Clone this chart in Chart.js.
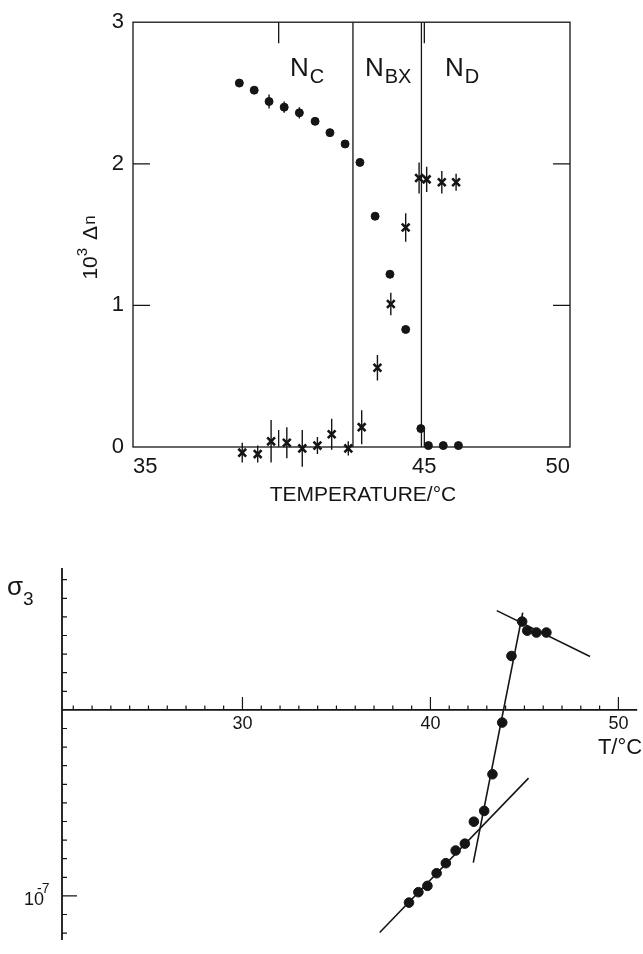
<!DOCTYPE html>
<html lang="en">
<head>
<meta charset="UTF-8">
<title>Birefringence and conductivity vs temperature</title>
<script src="https://cdn.jsdelivr.net/npm/chart.js"></script>
<style>
  body { margin: 0; background: #fff; width: 643px; height: 954px; overflow: hidden; position: relative; }
  canvas { position: absolute; left: 0; }
  #topChart { top: 0; }
  #bottomChart { top: 530px; }
</style>
</head>
<body>
<canvas id="topChart" width="643" height="520"></canvas>
<canvas id="bottomChart" width="643" height="424"></canvas>
<script>
// ---- top panel: 10^3 Δn against temperature ----
const tempDots  = [38.65, 39.16, 39.67, 40.19, 40.71, 41.25, 41.76, 42.28, 42.79, 43.31, 43.82, 44.36, 44.88, 45.14, 45.65, 46.17];
const deltaDots = [2.57, 2.52, 2.44, 2.40, 2.36, 2.30, 2.22, 2.14, 2.01, 1.63, 1.22, 0.83, 0.13, 0.01, 0.01, 0.01];
const errDots   = [0, 0, 0.05, 0.04, 0.04, 0, 0, 0, 0, 0, 0, 0, 0, 0, 0, 0];

const tempCross  = [38.75, 39.28, 39.74, 40.28, 40.81, 41.33, 41.82, 42.39, 42.85, 43.39, 43.85, 44.36, 44.82, 45.08, 45.60, 46.09];
const deltaCross = [-0.04, -0.05, 0.04, 0.03, -0.01, 0.01, 0.09, -0.01, 0.14, 0.56, 1.01, 1.55, 1.90, 1.89, 1.87, 1.87];
const errCross   = [0.07, 0.06, 0.15, 0.11, 0.13, 0.06, 0.11, 0.05, 0.12, 0.09, 0.08, 0.10, 0.11, 0.09, 0.08, 0.06];

const phaseBounds = [42.55, 44.9];
const phaseNames  = [['N', 'C'], ['N', 'BX'], ['N', 'D']];
const phaseLabelX = [40.39, 42.96, 45.71];
const topXTicks   = [35, 45, 50];

// ---- bottom panel: log σ3 against temperature ----
const tempSigma = [44.88, 45.15, 45.64, 46.17, 44.31, 43.82, 43.30, 42.86, 42.31, 41.83, 41.34, 40.82, 40.33, 39.84, 39.36, 38.86];
const logSigma  = [4.75, 4.26, 4.16, 4.16, 2.90, -0.68, -3.46, -5.43, -6.01, -7.19, -7.56, -8.24, -8.78, -9.46, -9.80, -10.36];

const fitHighX  = [43.53, 48.49];
const fitHighY  = [5.34, 2.87];
const fitSteepX = [42.28, 44.91];
const fitSteepY = [-8.21, 5.23];
const fitLowX   = [37.3, 45.22];
const fitLowY   = [-11.97, -3.67];

const sigmaTicks  = [7, 6, 5, 4, 3, 2, 1, -1, -2, -3, -4, -5, -6, -7, -8, -9, -10, -11, -12];
const decadeTick  = -10;     // the 10^-7 mark
const tempMajor   = [30, 40, 50];

const INK = '#151515';
const FONT = '"Liberation Sans", Arial, sans-serif';

function pts(xs, ys) { return xs.map((x, i) => ({ x: x, y: ys[i] })); }

function vLine(t) { return { type: 'line', data: [{ x: t, y: 0 }, { x: t, y: 3 }], borderColor: INK, borderWidth: 1.3, pointRadius: 0 }; }

const topDecor = {
  id: 'topDecor',
  beforeDatasetsDraw(chart) {
    const { ctx, chartArea: a, scales: { x, y } } = chart;
    ctx.save();
    ctx.strokeStyle = INK;
    ctx.lineWidth = 1.3;
    ctx.strokeRect(a.left, a.top, a.right - a.left, a.bottom - a.top);
    ctx.beginPath();
    [1, 2].forEach(v => {
      const py = y.getPixelForValue(v);
      ctx.moveTo(a.left, py); ctx.lineTo(a.left + 17, py);
      ctx.moveTo(a.right, py); ctx.lineTo(a.right - 17, py);
    });
    [40, 45].forEach(v => {
      const px = x.getPixelForValue(v);
      ctx.moveTo(px, a.bottom); ctx.lineTo(px, a.bottom - 17);
      ctx.moveTo(px, a.top); ctx.lineTo(px, a.top + 21);
    });
    ctx.stroke();
    // error bars
    ctx.lineWidth = 1.4;
    chart.data.datasets.forEach(ds => {
      if (!ds.err) return;
      ctx.beginPath();
      ds.data.forEach((p, j) => {
        const e = ds.err[j];
        if (!e) return;
        const px = x.getPixelForValue(p.x);
        ctx.moveTo(px, y.getPixelForValue(p.y - e));
        ctx.lineTo(px, y.getPixelForValue(p.y + e));
      });
      ctx.stroke();
    });
    ctx.restore();
  },
  afterDraw(chart) {
    const { ctx, scales: { x, y } } = chart;
    ctx.save();
    ctx.fillStyle = INK;
    ctx.textBaseline = 'alphabetic';
    // phase names
    const by = y.getPixelForValue(2.62);
    phaseNames.forEach((n, i) => {
      let px = x.getPixelForValue(phaseLabelX[i]);
      ctx.font = '26px ' + FONT;
      ctx.fillText(n[0], px, by);
      px += ctx.measureText(n[0]).width + 1;
      ctx.font = '20px ' + FONT;
      ctx.fillText(n[1], px, by + 7);
    });
    // y title, rotated
    ctx.save();
    ctx.translate(97, 248);
    ctx.rotate(-Math.PI / 2);
    ctx.font = '21px ' + FONT;
    const w1 = ctx.measureText('10').width;
    ctx.font = '15px ' + FONT;
    const w2 = ctx.measureText('3').width;
    ctx.font = '21px ' + FONT;
    const w3 = ctx.measureText('Δ').width;
    ctx.font = '17px ' + FONT;
    const w4 = ctx.measureText('n').width;
    const gap = 8;
    let cx = -(w1 + w2 + gap + w3 + w4) / 2;
    ctx.font = '21px ' + FONT; ctx.fillText('10', cx, 0); cx += w1;
    ctx.font = '15px ' + FONT; ctx.fillText('3', cx, -10); cx += w2 + gap;
    ctx.font = '21px ' + FONT; ctx.fillText('Δ', cx, 0); cx += w3 + 1;
    ctx.font = '17px ' + FONT; ctx.fillText('n', cx, -2);
    ctx.restore();
    // x title
    ctx.font = '21px ' + FONT;
    ctx.textAlign = 'center';
    ctx.textBaseline = 'middle';
    ctx.fillText('TEMPERATURE/°C', 363, 495);
    ctx.restore();
  }
};

new Chart(document.getElementById('topChart'), {
  type: 'scatter',
  data: {
    datasets: [
      { data: pts(tempDots, deltaDots), err: errDots, pointStyle: 'circle', pointRadius: 4, backgroundColor: INK, borderColor: INK, clip: false },
      { data: pts(tempCross, deltaCross), err: errCross, pointStyle: 'crossRot', pointRadius: 5.5, borderWidth: 2.6, borderColor: INK, clip: false },
      vLine(phaseBounds[0]),
      vLine(phaseBounds[1])
    ]
  },
  options: {
    responsive: false,
    animation: false,
    devicePixelRatio: 1,
    layout: { padding: { left: 0, right: 73, top: 10, bottom: 0 } },
    plugins: { legend: { display: false }, tooltip: { enabled: false } },
    scales: {
      x: {
        type: 'linear', min: 35, max: 50,
        afterBuildTicks: s => { s.ticks = topXTicks.map(v => ({ value: v })); },
        afterFit: s => { s.height = 73; },
        grid: { display: false, drawTicks: false },
        border: { display: false },
        ticks: { padding: 7, align: 'inner', maxRotation: 0, color: INK, font: { size: 22, family: FONT } }
      },
      y: {
        min: 0, max: 3,
        afterFit: s => { s.width = 133; },
        grid: { display: false, drawTicks: false },
        border: { display: false },
        ticks: { stepSize: 1, padding: 9, color: INK, font: { size: 22, family: FONT } }
      }
    }
  },
  plugins: [topDecor]
});

const bottomAxes = {
  id: 'bottomAxes',
  beforeDatasetsDraw(chart) {
    const { ctx, chartArea: a, scales: { x, y } } = chart;
    const y0 = y.getPixelForValue(0);
    ctx.save();
    ctx.strokeStyle = INK;
    ctx.lineWidth = 1.8;
    ctx.beginPath();
    ctx.moveTo(a.left, a.top); ctx.lineTo(a.left, a.bottom);
    ctx.moveTo(a.left, y0); ctx.lineTo(a.right, y0);
    ctx.stroke();
    ctx.lineWidth = 1.2;
    ctx.beginPath();
    for (let t = 21; t <= 50; t++) {
      const px = x.getPixelForValue(t);
      const len = tempMajor.includes(t) ? 13 : 4.5;
      ctx.moveTo(px, y0); ctx.lineTo(px, y0 - len);
    }
    sigmaTicks.forEach(v => {
      const py = y.getPixelForValue(v);
      const len = v === decadeTick ? 15 : 5;
      ctx.moveTo(a.left, py); ctx.lineTo(a.left + len, py);
    });
    ctx.stroke();
    // temperature labels
    ctx.fillStyle = INK;
    ctx.font = '18px ' + FONT;
    ctx.textAlign = 'center';
    ctx.textBaseline = 'middle';
    tempMajor.forEach(t => ctx.fillText(String(t), x.getPixelForValue(t), y0 + 14));
    ctx.font = '22px ' + FONT;
    ctx.fillText('T/°C', 620, y0 + 38);
    // sigma label
    ctx.textAlign = 'left';
    ctx.textBaseline = 'alphabetic';
    ctx.font = '26px ' + FONT;
    ctx.fillText('σ', 7, 65);
    ctx.font = '19px ' + FONT;
    ctx.fillText('3', 23, 75);
    // decade label
    const pd = y.getPixelForValue(decadeTick);
    ctx.font = '18px ' + FONT;
    ctx.fillText('10', 24, pd + 9);
    ctx.font = '14px ' + FONT;
    ctx.fillText('-7', 37, pd - 3);
    ctx.restore();
  }
};

function fitLine(xs, ys) { return { type: 'line', data: pts(xs, ys), borderColor: INK, borderWidth: 1.6, pointRadius: 0, clip: false }; }

new Chart(document.getElementById('bottomChart'), {
  type: 'scatter',
  data: {
    datasets: [
      { data: pts(tempSigma, logSigma), pointStyle: 'circle', pointRadius: 4.8, backgroundColor: INK, borderColor: INK, clip: false },
      fitLine(fitHighX, fitHighY),
      fitLine(fitSteepX, fitSteepY),
      fitLine(fitLowX, fitLowY)
    ]
  },
  options: {
    responsive: false,
    animation: false,
    devicePixelRatio: 1,
    layout: { padding: { left: 62, right: 5, top: 38, bottom: 14 } },
    plugins: { legend: { display: false }, tooltip: { enabled: false } },
    scales: {
      x: { type: 'linear', display: false, min: 20.4, max: 51 },
      y: { display: false, min: -12.37, max: 7.63 }
    }
  },
  plugins: [bottomAxes]
});
</script>
</body>
</html>
